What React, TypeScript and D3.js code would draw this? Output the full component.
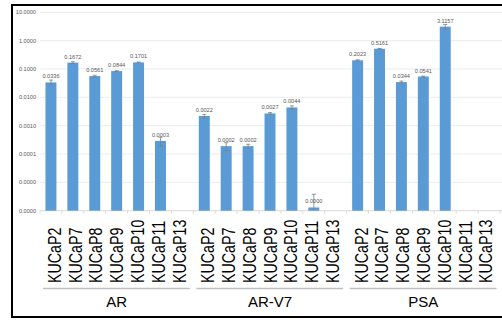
import React from "react";
import * as d3 from "d3";

const categories = ["KUCaP2", "KUCaP7", "KUCaP8", "KUCaP9", "KUCaP10", "KUCaP11", "KUCaP13"];
const groups = ["AR", "AR-V7", "PSA"];
const arValues = [0.0336, 0.1672, 0.0561, 0.0844, 0.1701, 0.00029, null];
const arv7Values = [0.0022, 0.00019, 0.00019, 0.0027, 0.0044, 0.0000013, null];
const psaValues = [0.2023, 0.5161, 0.0344, 0.0541, 3.1157, null, null];
const arErrors = [0.007, 0.012, 0.004, 0.003, 0.006, 0.0001, null];
const arv7Errors = [0.0003, 0.00006, 0.00003, 0.0002, 0.0006, 0.0000025, null];
const psaErrors = [0.008, 0.015, 0.003, 0.002, 0.6, null, null];
const yTicks = [10, 1, 0.1, 0.01, 0.001, 0.0001, 0.00001, 0.000001];

const W = 502, H = 322;
const L = 40, R = 500, TOP = 12.3, BASE = 210.7;

export default function App() {
  const values = [arValues, arv7Values, psaValues];
  const errors = [arErrors, arv7Errors, psaErrors];
  const n = groups.length * categories.length;
  const x = d3.scaleBand<number>().domain(d3.range(n)).range([L, R]).paddingInner(0).paddingOuter(0);
  const y = d3.scaleLog().domain([1e-6, 10]).range([BASE, TOP]).clamp(true);
  const bw = x.bandwidth();
  const barW = bw * 0.5;
  const font = "Liberation Sans, Arial, sans-serif";

  const bars: any[] = [];
  groups.forEach((g, gi) => {
    categories.forEach((c, ci) => {
      const idx = gi * categories.length + ci;
      const v = values[gi][ci];
      if (v == null) return;
      const e = errors[gi][ci] ?? 0;
      const cx = (x(idx) as number) + bw / 2;
      const top = y(v);
      const eTop = y(v + e);
      const eBot = v - e > 1e-6 ? y(v - e) : BASE;
      bars.push(
        <g key={`b${idx}`}>
          <rect x={cx - barW / 2} y={top} width={barW} height={BASE - top} fill="#5B9BD5" />
          <line x1={cx} x2={cx} y1={eTop} y2={eBot} stroke="#7f7f7f" strokeWidth={0.8} />
          <line x1={cx - 2} x2={cx + 2} y1={eTop} y2={eTop} stroke="#7f7f7f" strokeWidth={0.8} />
          {v - e > 1e-6 && (
            <line x1={cx - 2} x2={cx + 2} y1={eBot} y2={eBot} stroke="#7f7f7f" strokeWidth={0.8} />
          )}
          <text x={cx} y={top - 4} textAnchor="middle" fontSize={5.6} fill="#595959" fontFamily={font}>
            {v.toFixed(4)}
          </text>
        </g>
      );
    });
  });

  return (
    <svg width={W} height={H} style={{ position: "fixed", left: 0, top: 0, background: "#fff" }}>
      <rect x={0} y={0} width={W} height={H} fill="#fff" />
      {/* gridlines */}
      {yTicks.map((t, i) => (
        <g key={`t${i}`}>
          <line x1={L} x2={W} y1={y(t)} y2={y(t)} stroke={i === yTicks.length - 1 ? "#d9d9d9" : "#ececec"} strokeWidth={1} />
          <text x={36} y={y(t) + 2} textAnchor="end" fontSize={5.6} fill="#595959" fontFamily={font}>
            {t.toFixed(4)}
          </text>
        </g>
      ))}
      {/* category ticks */}
      {d3.range(n + 1).map((i) => {
        const xx = i < n ? (x(i) as number) : R;
        return <line key={`ct${i}`} x1={xx} x2={xx} y1={BASE} y2={BASE + 3} stroke="#d9d9d9" strokeWidth={1} />;
      })}
      {bars}
      {/* category labels */}
      {groups.map((g, gi) => {
        const g0 = x(gi * categories.length) as number;
        const g1 = gi * categories.length + categories.length < n ? (x(gi * categories.length + categories.length) as number) : R;
        const gc = (g0 + g1) / 2;
        return (
          <g key={`g${gi}`}>
            {categories.map((c, ci) => {
              const cx = gc + (ci - 3) * bw * 0.95;
              return (
                <text
                  key={c}
                  transform={`translate(${cx + 6.6},283) rotate(-90) scale(0.77,1)`}
                  fontSize={18.5}
                  fill="#000"
                  fontFamily={font}
                >
                  {c}
                </text>
              );
            })}
            <line x1={g0 + 3} x2={g1 - 3.5} y1={288.5} y2={288.5} stroke="#bfbfbf" strokeWidth={1.5} />
            <text x={gc} y={307} textAnchor="middle" fontSize={15} fill="#000" fontFamily={font}>
              {g}
            </text>
          </g>
        );
      })}
      {/* frame */}
      <line x1={12} x2={W} y1={5} y2={5} stroke="#000" strokeWidth={2} />
      <line x1={12} x2={12} y1={4} y2={318} stroke="#000" strokeWidth={2} />
      <line x1={11} x2={W} y1={317} y2={317} stroke="#000" strokeWidth={2} />
    </svg>
  );
}
